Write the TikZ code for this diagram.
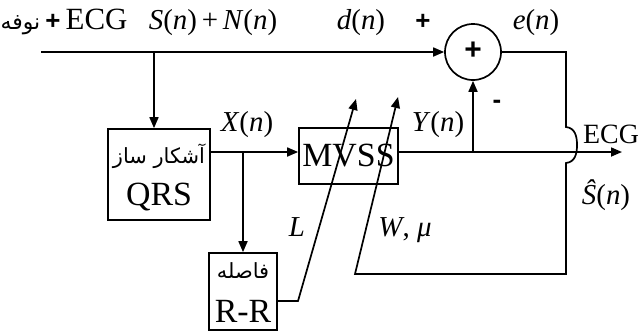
\documentclass[tikz,border=0pt]{standalone}
\usepackage{fontspec}
\setmainfont{Liberation Serif}
\newfontfamily\arabicfont[Script=Arabic]{DejaVu Sans}
\newfontfamily\plusfont{Liberation Sans}
\TeXXeTstate=1
\usetikzlibrary{arrows.meta}
\begin{document}
\begin{tikzpicture}[x=1bp,y=-1bp,
  line width=1.7bp,
  arr/.style={-{Triangle[length=11bp,width=9bp]}},
  blk/.style={draw,inner sep=0pt,align=center},
  lbl/.style={font=\fontsize{29}{30}\selectfont,inner sep=0pt},
  sgn/.style={font=\plusfont\bfseries\fontsize{26}{26}\selectfont,inner sep=0pt},
  big/.style={font=\fontsize{34}{36}\selectfont},
  fa/.style={font=\arabicfont\fontsize{21}{24}\selectfont}]
\useasboundingbox (0,0) rectangle (640,332);

% blocks
\node[blk,minimum width=102bp,minimum height=91bp] (qrs) at (159,174.5) {};
\node[fa,inner sep=0pt] (qrsfa) at (159,156) {\beginR آشکار ساز\endR};
\node[big,inner sep=0pt] (qrsen) at (159,197) {QRS};
\node[blk,minimum width=99bp,minimum height=56bp,big] (mvss) at (348.5,156) {MVSS};
\node[blk,minimum width=68bp,minimum height=77bp] (rr) at (243,291.5) {};
\node[fa,inner sep=0pt] (rrfa) at (243,271) {\beginR فاصله\endR};
\node[big,inner sep=0pt] (rren) at (243,311) {R-R};
\node[draw,circle,minimum size=56bp,inner sep=0pt] (sum) at (473,52) {};
\node[sgn,font=\plusfont\bfseries\fontsize{30}{30}\selectfont] (sumplus) at (473,51) {+};

% coordinates
\coordinate (in) at (41,52);
\coordinate (b1) at (154,52);
\coordinate (xs) at (210,152);
\coordinate (b2) at (243,152);
\coordinate (ys) at (398,152);
\coordinate (j) at (473,152);
\coordinate (outend) at (622,152);
\coordinate (rro) at (277,301);
\coordinate (rrk) at (298,301);
\coordinate (tipL) at (356,99);
\coordinate (e1) at (566,52);
\coordinate (e2) at (566,127);
\coordinate (e3) at (566,163);
\coordinate (e4) at (566,274);
\coordinate (e5) at (355,274);
\coordinate (tipW) at (398,97);

% connectors
\draw[arr] (in) -- (sum.west);
\draw[arr] (b1) -- (b1 |- qrs.north);
\draw[arr] (xs) -- (xs -| mvss.west);
\draw[arr] (b2) -- (b2 |- rr.north);
\draw[arr] (ys) -- (outend);
\draw[arr] (j) -- (sum.south);
\draw[arr] (rro) -- (rrk) -- (tipL);
\draw[arr] (sum.east) -- (e1) -- (e2)
  .. controls (575,128) and (577,136) .. (577,145)
  .. controls (577,154) and (575,162) .. (e3)
  -- (e4) -- (e5) -- (tipW);

% labels
\node[lbl,anchor=base,font=\fontsize{31}{32}\selectfont] (lin) at (64,29) {{\arabicfont\fontsize{22}{24}\selectfont\beginR نوفه\endR}\,{\plusfont\bfseries\fontsize{26}{26}\selectfont +}\,ECG};
\node[lbl,anchor=base] (lsn) at (213,29) {\textit{S}(\textit{n})\,+\,\textit{N}(\textit{n})};
\node[lbl,anchor=base] (ld) at (361,29) {\textit{d}(\textit{n})};
\node[sgn,anchor=base] (lplus) at (423,29) {+};
\node[lbl,anchor=base] (le) at (536,29) {\textit{e}(\textit{n})};
\node[lbl,anchor=base] (lx) at (247,131) {\textit{X}(\textit{n})};
\node[lbl,anchor=base] (ly) at (438,131) {\textit{Y}(\textit{n})};
\node[sgn] (lminus) at (497,104) {-};
\node[lbl,font=\fontsize{28}{28}\selectfont,anchor=base] (lecg) at (611,143) {ECG};
\node[lbl,anchor=base] (lsh) at (606,204) {\textit{Ŝ}(\textit{n})};
\node[lbl,anchor=base] (ll) at (297,236) {\textit{L}};
\node[lbl,anchor=base] (lw) at (405,236) {\textit{W}, \textit{μ}};
\end{tikzpicture}
\end{document}
